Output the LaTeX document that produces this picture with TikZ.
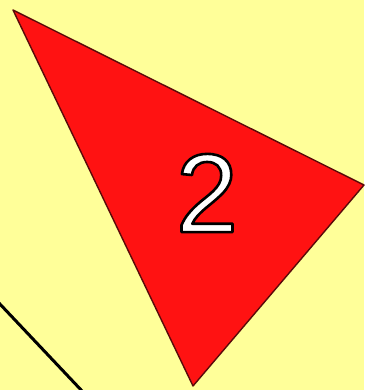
\documentclass[tikz,border=0pt]{standalone}
\usepackage{fontspec}
\setmainfont{Liberation Sans}
\begin{document}
\begin{tikzpicture}[x=1pt,y=-1pt,
  tri/.style={fill={rgb,255:red,255;green,18;blue,18}, draw={rgb,255:red,90;green,10;blue,10}, line width=1.4pt, line join=round},
  edge/.style={draw=black, line width=3pt},
  numtxt/.style={font=\fontsize{112}{112}\selectfont, inner sep=0pt}]
\fill[fill={rgb,255:red,255;green,255;blue,153}] (0,0) rectangle (364,390);
\useasboundingbox (0,0) rectangle (364,390);
\coordinate (a) at (13,10);
\coordinate (b) at (364,185);
\coordinate (c) at (193,386);
\filldraw[tri] (a) -- (b) -- (c) -- cycle;
\coordinate (l1) at (-2,302);
\coordinate (l2) at (83,392);
\draw[edge] (l1) -- (l2);
\node[numtxt] (n) at (207,193) {\color{white}\special{pdf:literal direct 2 Tr 2.6 w 1 j 0 0 0 RG}2\special{pdf:literal direct 0 Tr}};
\end{tikzpicture}
\end{document}
